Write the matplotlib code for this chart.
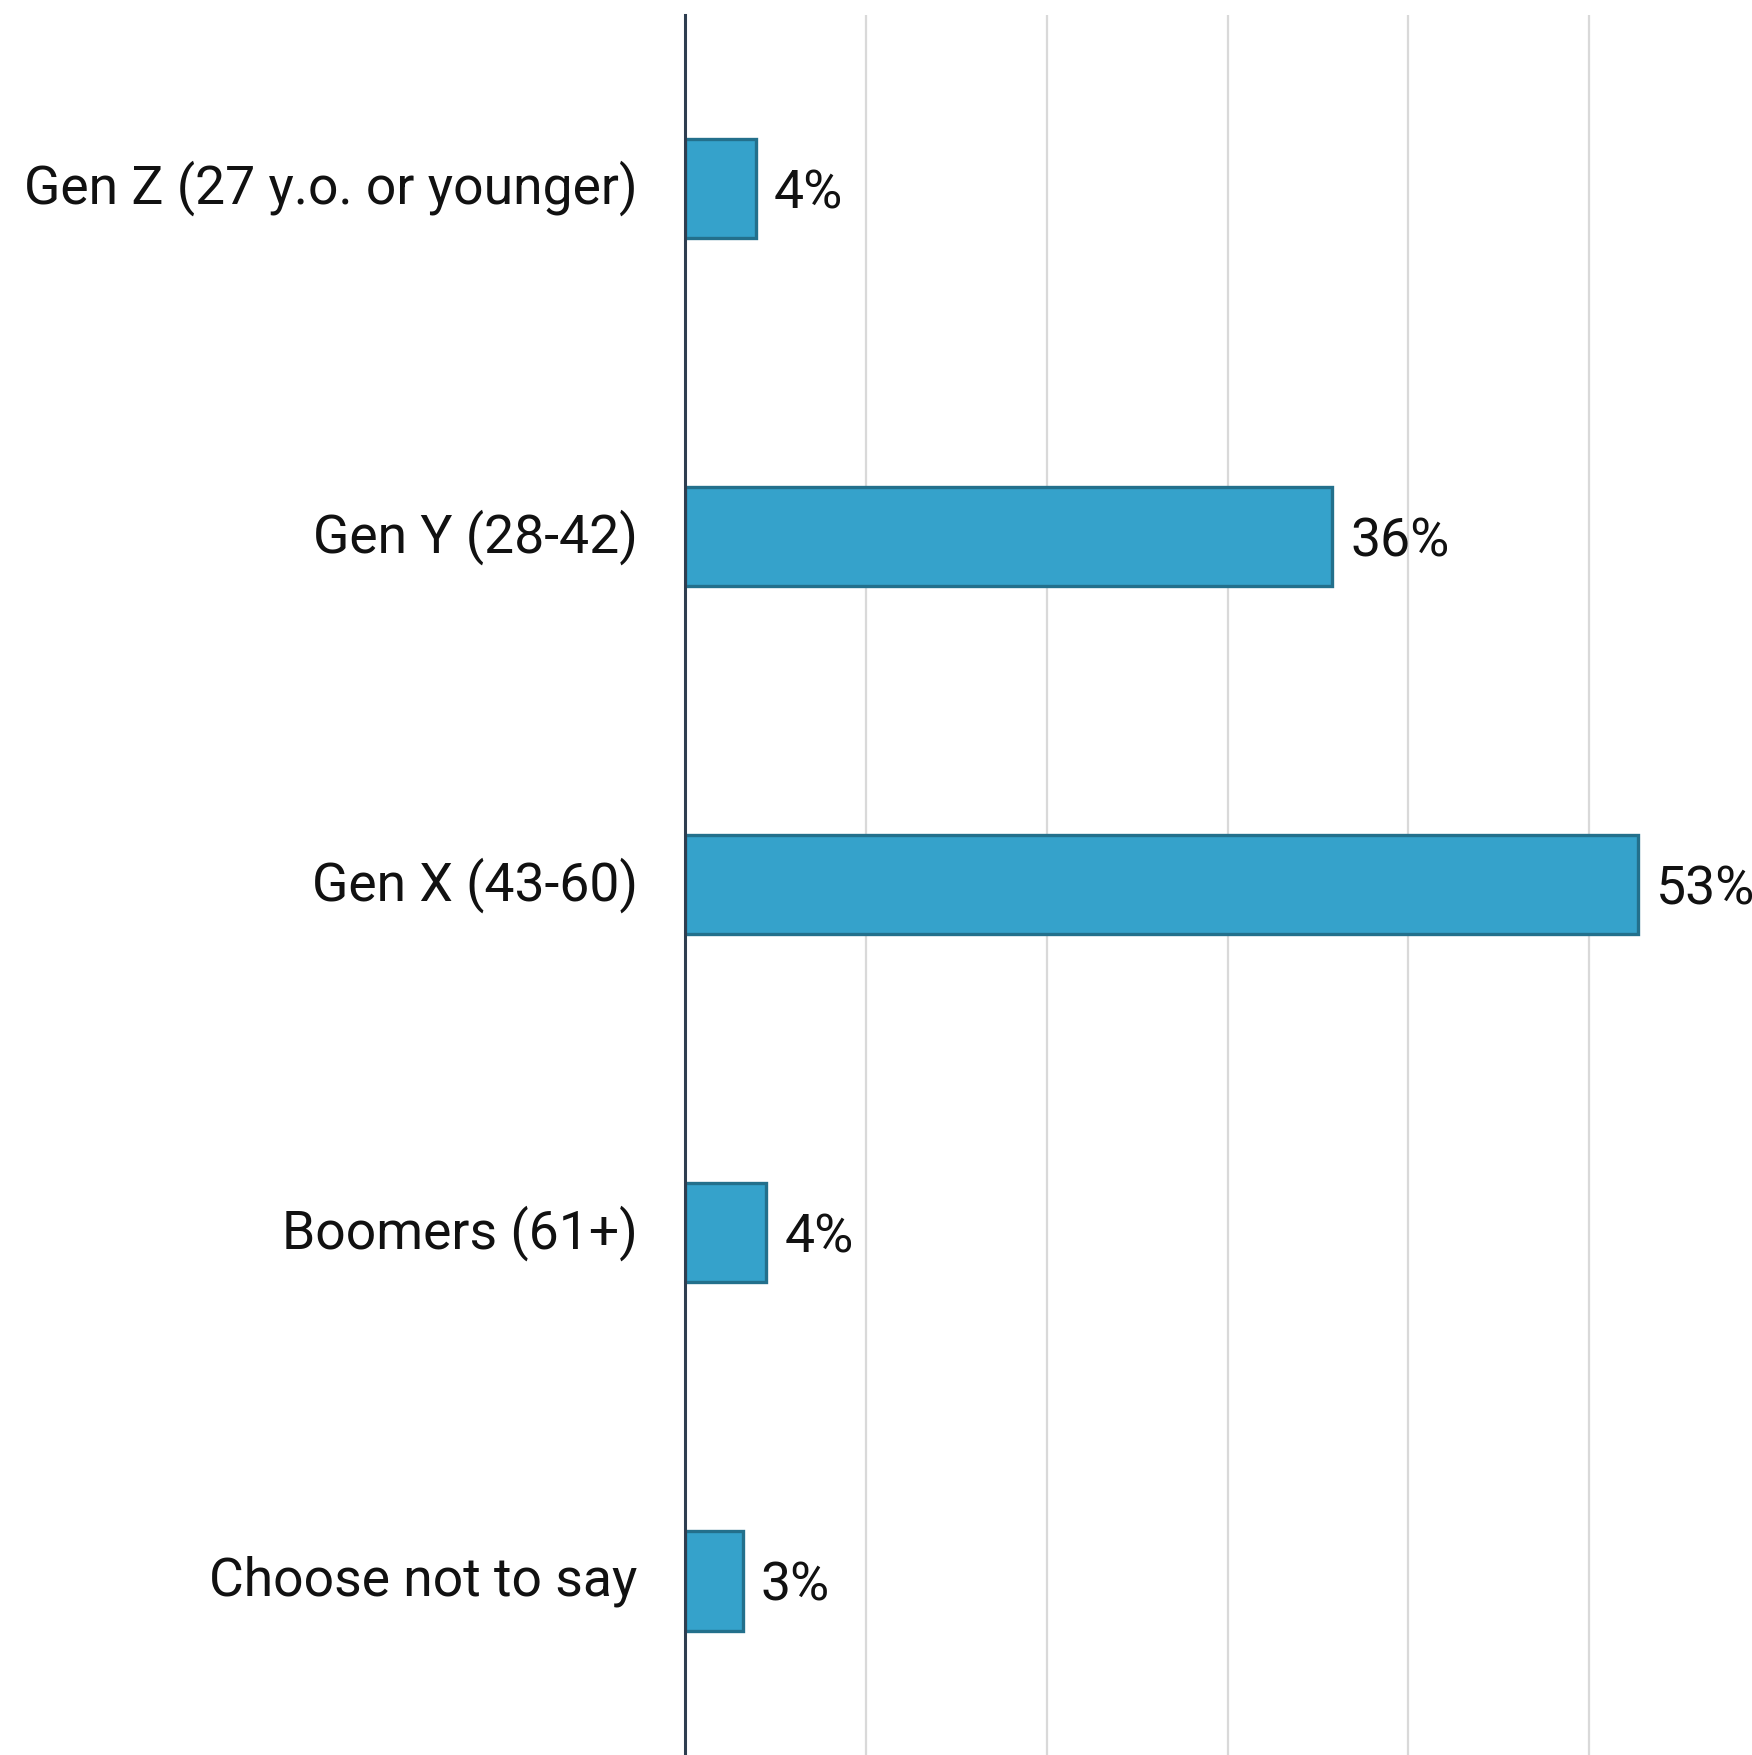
import matplotlib.pyplot as plt

# 数据
categories = ["Gen Z (27 y.o. or younger)", "Gen Y (28-42)", "Gen X (43-60)",
              "Boomers (61+)", "Choose not to say"]
values = [3.9, 35.8, 52.7, 4.5, 3.2]
value_labels = ["4%", "36%", "53%", "4%", "3%"]
grid_ticks = [10, 20, 30, 40, 50]

plt.rcParams['font.family'] = ['Roboto', 'DejaVu Sans']

fig = plt.figure(figsize=(17.52, 17.55), dpi=100)
ax = fig.add_axes([0.391, 0.0, 0.609, 0.9917])

y = list(range(len(categories)))
bars = ax.barh(y, values, height=0.285, color='#35A2CB', edgecolor='#23708C',
               linewidth=2.4, zorder=3)

# 数值标签
for rect, lab in zip(bars, value_labels):
    ax.annotate(lab, (rect.get_width(), rect.get_y() + rect.get_height() / 2),
                xytext=(13, 0), textcoords='offset points', va='center_baseline',
                ha='left', fontsize=38.5, color='#111111', annotation_clip=False)

ax.set_xlim(0, 59)
ax.set_ylim(len(categories) - 0.5, -0.5)
ax.set_yticks(y)
ax.set_yticklabels(categories, fontsize=38.5, color='#111111', va='center')
ax.set_xticks(grid_ticks)
ax.set_xticklabels([])
ax.tick_params(axis='both', length=0, pad=34)
ax.grid(axis='x', color='#D9D9D9', linewidth=1.6, zorder=0)

for side in ['top', 'right', 'bottom']:
    ax.spines[side].set_visible(False)
ax.spines['left'].set_color('#2E3E50')
ax.spines['left'].set_linewidth(2.2)
ax.spines['left'].set_zorder(4)

fig.savefig('out.png', dpi=100)
